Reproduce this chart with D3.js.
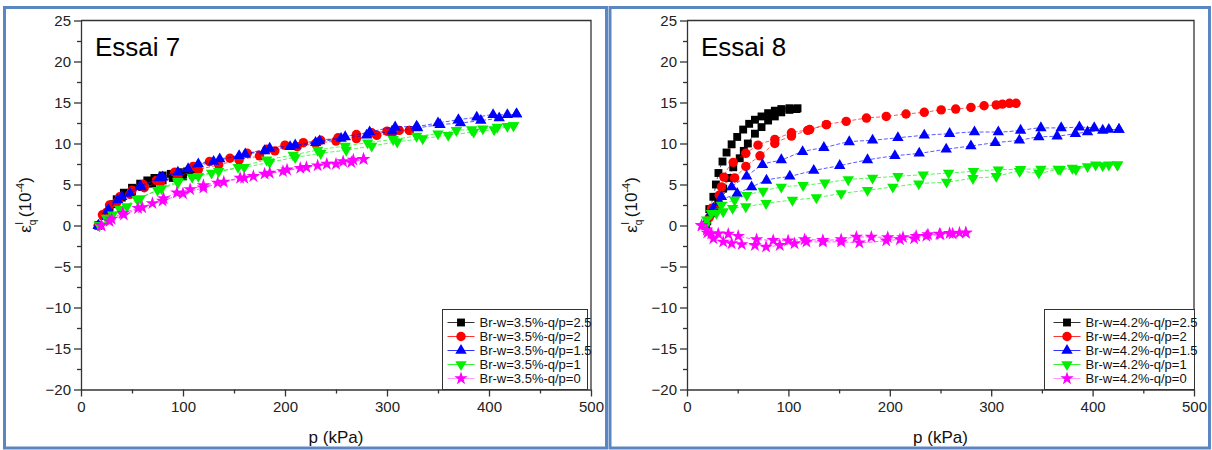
<!DOCTYPE html>
<html>
<head>
<meta charset="utf-8">
<script src="https://cdn.jsdelivr.net/npm/d3@7"></script>
<style>
  body { margin: 0; background: #fff; }
  svg { display: block; font-family: Arial, "Liberation Sans", sans-serif; }
</style>
</head>
<body>
<div id="chart"></div>
<script>
// tick values shared by both panels
const xTicks = [0, 100, 200, 300, 400, 500];
const yTicks = [-20, -15, -10, -5, 0, 5, 10, 15, 20, 25];

// Essai 7 : each series = list of branches, each branch = [p (kPa), eps_q (1e-4)]
const e7_q25 = [
  [[17,0],[22,1.2],[28,2.2],[35,3.2],[42,4.0],[50,4.6],[58,5.1],[65,5.5],[72,5.8],[80,6.1],[88,6.3],[96,6.5],[104,6.6],[110,6.6]],
  [[17,0],[24,1.3],[32,2.6],[40,3.4],[50,4.1],[60,4.7],[70,5.1],[80,5.5],[90,5.8],[100,6.0],[110,6.2]]
];
const e7_q2 = [
  [[17,0],[21,1.3],[28,2.5],[38,3.5],[50,4.3],[61,5.0],[74,5.5],[92,6.5],[110,7.2],[126,7.8],[146,8.2],[163,8.8],[182,9.3],[200,9.8],[218,10.1],[235,10.4],[252,10.7],[270,11.1],[285,11.3],[300,11.5],[312,11.6],[322,11.6]],
  [[17,0],[25,1.6],[35,2.8],[48,3.8],[62,4.6],[78,5.3],[95,6.0],[115,6.8],[135,7.4],[155,8.0],[175,8.5],[190,9.1],[212,9.6],[230,10.0],[250,10.3],[270,10.6],[290,11.0],[305,11.2],[322,11.6]]
];
const e7_q15 = [
  [[17,0],[27,1.9],[36,3.1],[48,3.9],[59,4.7],[77,5.8],[95,6.5],[115,7.5],[136,8.1],[161,8.7],[185,9.4],[210,9.8],[234,10.3],[259,10.8],[283,11.4],[308,12.0],[329,12.1],[350,12.5],[370,12.9],[388,13.2],[404,13.5],[418,13.5],[427,13.6]],
  [[17,0],[26,1.8],[40,3.5],[58,4.8],[80,5.9],[105,6.9],[130,7.8],[155,8.5],[180,9.1],[205,9.6],[230,10.1],[255,10.6],[280,11.0],[305,11.5],[330,11.9],[352,12.3],[372,12.5],[392,12.8],[410,13.1],[427,13.6]]
];
const e7_q1 = [
  [[18,0],[31,1.3],[45,2.3],[58,3.3],[79,4.5],[95,5.4],[109,5.9],[128,6.4],[154,7.1],[182,8.0],[208,8.6],[232,9.2],[259,9.7],[281,10.1],[306,10.5],[329,10.9],[350,11.2],[368,11.6],[383,11.7],[394,11.8],[408,12.0],[418,12.1],[424,12.2]],
  [[18,0],[25,0.9],[38,2.0],[55,3.2],[75,4.3],[95,5.2],[115,6.0],[135,6.6],[160,7.1],[185,7.7],[210,8.3],[235,8.8],[260,9.2],[285,9.7],[310,10.2],[335,10.6],[360,11.0],[385,11.4],[405,11.7],[424,12.2]]
];
const e7_q0 = [
  [[20,0],[30,0.8],[41,1.5],[56,2.1],[70,2.7],[81,3.3],[94,4.0],[107,4.4],[120,4.9],[134,5.2],[156,5.8],[169,6.0],[185,6.4],[202,6.8],[221,7.1],[241,7.5],[257,7.8],[267,8.0],[277,8.1]],
  [[20,0],[28,0.5],[42,1.3],[60,2.2],[80,3.0],[100,3.9],[120,4.6],[140,5.3],[160,5.8],[180,6.3],[198,6.6],[215,7.0],[232,7.3],[250,7.5],[265,7.7],[277,8.1]]
];

// Essai 8
const e8_q25 = [
  [[18,0],[22,2.0],[26,3.5],[28.5,5.0],[31,6.4],[35,7.8],[39,8.9],[44,9.9],[49.5,10.8],[55.4,11.7],[61.3,12.4],[67,12.9],[73.5,13.3],[80,13.7],[86.6,14.0],[93,14.2],[101,14.3],[109,14.3]],
  [[18,0],[20,0.5],[25.9,1.5],[30.8,2.7],[35.7,4.5],[40.7,5.8],[45.6,7.1],[52,8.2],[56,9.1],[60,10.0],[67,11.2],[73.5,12.0],[80,12.8],[86.6,13.3],[93,13.8],[101,14.1],[108,14.2]]
];
const e8_q2 = [
  [[18,0],[24.3,2.1],[31.8,3.7],[36.4,5.9],[45.6,7.7],[58,8.8],[70,9.8],[86.6,10.5],[103,11.3],[121,11.7],[137.5,12.3],[157,12.7],[177,13.1],[196.5,13.3],[216,13.6],[234,13.8],[250.7,14.1],[265,14.2],[280,14.4],[293,14.6],[305,14.7],[311,14.8],[318,14.9],[324.5,14.9]],
  [[18,0],[22,1.0],[30.8,2.1],[34,4.7],[47,5.8],[58,7.2],[72,8.5],[86.6,10.0],[103,10.9],[119,11.6],[137.5,12.3]]
];
const e8_q15 = [
  [[18,0],[25.9,2.1],[34,3.5],[44,4.7],[58.8,6.0],[74.5,7.4],[93,8.0],[114,9.0],[135,9.5],[160,10.2],[183,10.4],[208,10.7],[234,11.0],[259,11.2],[283.5,11.4],[307,11.4],[329,11.6],[349,11.9],[369,11.9],[387,12.0],[401.6,11.9],[416,11.7],[426,11.7]],
  [[18,0],[24,1.6],[32,2.8],[49.5,3.9],[63.7,4.7],[78.4,5.5],[101.4,6.0],[125,6.7],[150.6,7.3],[178,8.0],[205,8.5],[229,8.8],[255.6,9.3],[280,9.7],[304,10.1],[327.8,10.4],[347,10.8],[365,10.9],[383,11.2],[395,11.4],[410,11.6],[426,11.7]]
];
const e8_q1 = [
  [[18,0],[19.4,0.7],[24,1.5],[34,2.5],[47,3.1],[59,3.7],[75,4.2],[93,4.7],[114.5,4.9],[136,5.2],[159,5.6],[183,5.8],[208,6.0],[233,6.2],[258,6.4],[282.5,6.6],[307,6.8],[329,6.85],[349,6.9],[366,6.9],[380,7.0],[403,7.4],[416,7.4],[424.5,7.4]],
  [[18,0],[29,1.5],[35.7,1.7],[45,2.1],[58,2.3],[78,2.7],[104,3.1],[127.6,3.4],[152,3.9],[178,4.3],[203,4.7],[228.6,5.1],[256,5.3],[282,5.75],[305,6.0],[328,6.6],[347,6.4],[368,6.85],[383.5,6.85],[395,7.2],[410,7.3],[424.5,7.4]]
];
const e8_q0 = [
  [[14.4,0],[19.4,-0.55],[24,-1.0],[30.8,-1.0],[40.7,-1.04],[50.5,-1.3],[68.6,-1.7],[85,-1.8],[99.7,-1.85],[116,-1.7],[134,-1.8],[152,-1.7],[167,-1.4],[181.8,-1.4],[198,-1.45],[213,-1.45],[226,-1.3],[237.6,-1.1],[249,-1.04],[259,-0.95],[268.7,-0.9],[275,-0.9]],
  [[14.4,0],[20,-0.9],[26,-1.6],[35.7,-2.0],[44,-2.2],[54,-2.3],[67,-2.4],[78,-2.6],[91.5,-2.4],[106,-2.2],[117.8,-2.0],[134,-2.0],[152,-2.0],[170,-2.1],[196.5,-1.85],[210,-1.7],[224,-1.6],[236,-1.3],[250,-1.1],[262,-1.0],[275,-0.9]]
];

const labels7 = ['Br-w=3.5%-q/p=2.5', 'Br-w=3.5%-q/p=2', 'Br-w=3.5%-q/p=1.5', 'Br-w=3.5%-q/p=1', 'Br-w=3.5%-q/p=0'];
const labels8 = ['Br-w=4.2%-q/p=2.5', 'Br-w=4.2%-q/p=2', 'Br-w=4.2%-q/p=1.5', 'Br-w=4.2%-q/p=1', 'Br-w=4.2%-q/p=0'];

const colors = ['#000000', '#ff0000', '#0000ff', '#00f000', '#ff00ff'];
const symbols = [
  { type: d3.symbolSquare, size: 62, rot: 0 },
  { type: d3.symbolCircle, size: 70, rot: 0 },
  { type: d3.symbolTriangle, size: 56, rot: 0 },
  { type: d3.symbolTriangle, size: 56, rot: 180 },
  { type: d3.symbolStar, size: 56, rot: 0 }
];

const width = 1212, height = 450;
const svg = d3.select('#chart').append('svg')
  .attr('width', width)
  .attr('height', height);

function drawPanel(opts) {
  const { left, title, series, labels, xRange, legendX } = opts;

  // panel frame
  svg.append('rect')
    .attr('x', left.x).attr('y', 7.5)
    .attr('width', left.w).attr('height', 440.5)
    .attr('fill', '#fff')
    .attr('stroke', '#5a86c2')
    .attr('stroke-width', 3);

  const x = d3.scaleLinear().domain([0, 500]).range(xRange);
  const y = d3.scaleLinear().domain([-20, 25]).range([389.5, 20.5]);

  const g = svg.append('g');

  // top + right border of plot area
  g.append('path')
    .attr('d', `M${x(0)},${y(25)}H${x(500)}V${y(-20)}`)
    .attr('fill', 'none')
    .attr('stroke', '#333')
    .attr('stroke-width', 1.3);

  // minor ticks
  g.append('g')
    .attr('transform', `translate(0,${y(-20)})`)
    .call(d3.axisBottom(x).tickValues(d3.range(50, 500, 100)).tickSize(4).tickFormat(''))
    .call(a => a.select('.domain').remove())
    .call(a => a.selectAll('line').attr('stroke', '#333').attr('stroke-width', 1.3));
  g.append('g')
    .attr('transform', `translate(${x(0)},0)`)
    .call(d3.axisLeft(y).tickValues(d3.range(-17.5, 25, 5)).tickSize(4).tickFormat(''))
    .call(a => a.select('.domain').remove())
    .call(a => a.selectAll('line').attr('stroke', '#333').attr('stroke-width', 1.3));

  // major axes
  const xAxis = g.append('g')
    .attr('transform', `translate(0,${y(-20)})`)
    .call(d3.axisBottom(x).tickValues(xTicks).tickSize(7).tickSizeOuter(0).tickPadding(5));
  const yAxis = g.append('g')
    .attr('transform', `translate(${x(0)},0)`)
    .call(d3.axisLeft(y).tickValues(yTicks).tickSize(7).tickSizeOuter(0).tickPadding(3));
  [xAxis, yAxis].forEach(a => {
    a.selectAll('path, line').attr('stroke', '#333').attr('stroke-width', 1.3);
    a.selectAll('text').attr('fill', '#222').style('font-size', '15px')
      .style('font-family', 'Arial, "Liberation Sans", sans-serif');
  });

  // axis titles
  g.append('text')
    .attr('x', (xRange[0] + xRange[1]) / 2)
    .attr('y', 443)
    .attr('text-anchor', 'middle')
    .attr('fill', '#111')
    .style('font-size', '17px')
    .text('p (kPa)');

  const yl = g.append('text')
    .attr('transform', `translate(${xRange[0] - 50},205) rotate(-90)`)
    .attr('text-anchor', 'middle')
    .attr('fill', '#111')
    .style('font-size', '17px');
  yl.append('tspan').text('ε');
  yl.append('tspan').attr('dy', 5).style('font-size', '10px').text('q');
  yl.append('tspan').attr('dy', -13).attr('dx', -5).style('font-size', '10px').text('I');
  yl.append('tspan').attr('dy', 8).text(' (10');
  yl.append('tspan').attr('dy', -7).style('font-size', '11px').text('-4');
  yl.append('tspan').attr('dy', 7).text(')');

  // title
  g.append('text')
    .attr('x', x(0) + 14)
    .attr('y', 56)
    .attr('fill', '#000')
    .style('font-size', '26px')
    .text(title);

  // series
  const line = d3.line().x(d => x(d[0])).y(d => y(d[1])).curve(d3.curveMonotoneX);
  series.forEach((s, i) => {
    const sg = g.append('g');
    s.forEach(branch => {
      sg.append('path')
        .datum(branch.slice().sort((a, b) => a[0] - b[0]))
        .attr('fill', 'none')
        .attr('stroke', colors[i])
        .attr('stroke-opacity', 0.65)
        .attr('stroke-width', 1)
        .attr('stroke-dasharray', '4 2')
        .attr('d', line);
    });
    const sym = d3.symbol().type(symbols[i].type).size(symbols[i].size);
    sg.selectAll('path.pt')
      .data(s.flat())
      .join('path')
      .attr('class', 'pt')
      .attr('transform', d => `translate(${x(d[0])},${y(d[1])}) rotate(${symbols[i].rot})`)
      .attr('fill', colors[i])
      .attr('d', sym);
  });

  // legend
  const lw = legendX.w, lh = 80;
  const lg = g.append('g')
    .attr('transform', `translate(${legendX.x},${y(-20) - lh})`);
  lg.append('rect')
    .attr('width', lw).attr('height', lh)
    .attr('fill', '#fff')
    .attr('stroke', '#333')
    .attr('stroke-width', 1);
  labels.forEach((lab, i) => {
    const yy = 13 + i * 14;
    lg.append('line')
      .attr('x1', legendX.l1).attr('x2', legendX.l1 + 27)
      .attr('y1', yy).attr('y2', yy)
      .attr('stroke', colors[i])
      .attr('stroke-opacity', i === 4 ? 0.4 : 0.8)
      .attr('stroke-width', 1);
    lg.append('path')
      .attr('transform', `translate(${legendX.l1 + 13.5},${yy}) rotate(${symbols[i].rot})`)
      .attr('fill', colors[i])
      .attr('d', d3.symbol().type(symbols[i].type).size(symbols[i].size)());
    lg.append('text')
      .attr('x', legendX.l1 + 32)
      .attr('y', yy)
      .attr('dy', '0.36em')
      .attr('fill', '#111')
      .style('font-size', '13px')
      .text(lab);
  });
}

drawPanel({
  left: { x: 4.5, w: 602 },
  title: 'Essai 7',
  series: [e7_q25, e7_q2, e7_q15, e7_q1, e7_q0],
  labels: labels7,
  xRange: [81, 591],
  legendX: { x: 442.5, w: 145, l1: 5 }
});

drawPanel({
  left: { x: 610, w: 599.5 },
  title: 'Essai 8',
  series: [e8_q25, e8_q2, e8_q15, e8_q1, e8_q0],
  labels: labels8,
  xRange: [687, 1194],
  legendX: { x: 1044.5, w: 150, l1: 9 }
});
</script>
</body>
</html>
